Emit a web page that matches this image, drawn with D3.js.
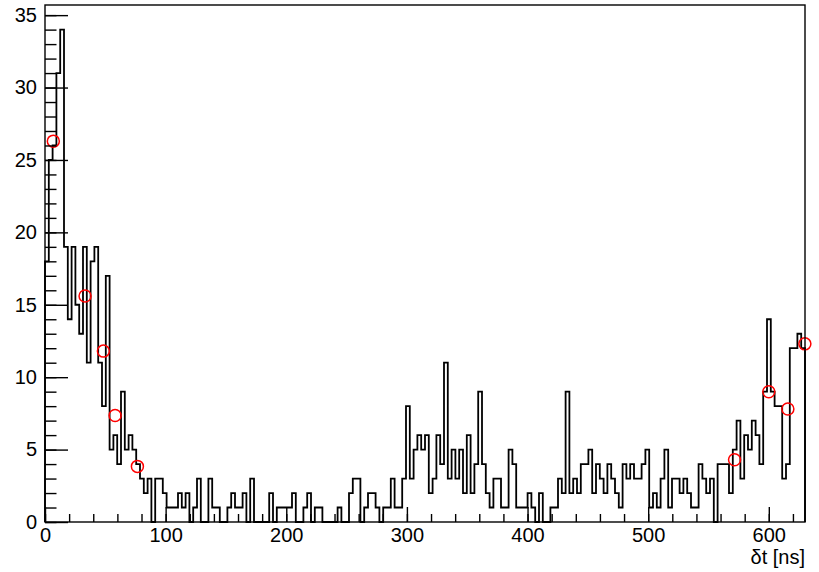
<!DOCTYPE html>
<html>
<head>
<meta charset="utf-8">
<script src="https://cdn.jsdelivr.net/npm/d3@7/dist/d3.min.js"></script>
<style>
body { margin: 0; background: #fff; }
svg text { font-family: "Liberation Sans", Arial, Helvetica, sans-serif; }
</style>
</head>
<body>
<div id="chart"></div>
<script>
// histogram contents, 200 bins from 0 to 630 ns
const counts = [
    18, 25, 26, 31, 34, 19, 14, 19, 15, 13,
    19, 11, 18, 19, 11, 8, 17, 5, 6, 4,
    9, 5, 6, 5, 4, 3, 2, 3, 0, 3,
    3, 2, 1, 1, 1, 2, 1, 2, 0, 1,
    3, 0, 0, 3, 1, 1, 0, 0, 1, 2,
    1, 1, 2, 0, 3, 0, 0, 0, 0, 2,
    0, 1, 1, 1, 1, 2, 0, 0, 1, 2,
    0, 1, 1, 0, 0, 0, 0, 1, 0, 0,
    2, 3, 3, 0, 1, 2, 2, 1, 0, 1,
    1, 3, 1, 1, 3, 8, 3, 5, 6, 5,
    6, 2, 3, 6, 4, 11, 3, 5, 3, 5,
    2, 6, 2, 4, 9, 4, 2, 1, 3, 3,
    1, 1, 5, 4, 1, 1, 1, 2, 1, 0,
    2, 0, 0, 1, 1, 3, 2, 9, 2, 3,
    2, 4, 4, 5, 2, 4, 3, 2, 4, 3,
    2, 1, 4, 3, 4, 3, 3, 4, 5, 1,
    2, 1, 3, 5, 1, 3, 3, 2, 3, 2,
    1, 1, 4, 3, 2, 3, 0, 4, 4, 4,
    2, 5, 7, 3, 6, 5, 7, 6, 4, 9,
    14, 9, 8, 8, 3, 4, 12, 12, 13, 12
];
const binLow = 0;
const binHigh = 630;

// red markers
const markerX = [6.9, 33.2, 48.4, 58.1, 76.6, 571.6, 600.0, 615.8, 629.9];
const markerY = [26.3, 15.6, 11.8, 7.35, 3.84, 4.3, 9.0, 7.8, 12.3];

const xMajor = [0, 100, 200, 300, 400, 500, 600];
const yMajor = [0, 5, 10, 15, 20, 25, 30, 35];
const xTitle = "δt [ns]";

const W = 819, H = 572;
const frame = { left: 45, right: 805, top: 5, bottom: 522 };

const svg = d3.select("#chart").append("svg")
    .attr("width", W)
    .attr("height", H)
    .style("display", "block");

svg.append("rect").attr("width", W).attr("height", H).attr("fill", "#fff");

const x = d3.scaleLinear()
    .domain([binLow, binHigh])
    .range([frame.left, frame.right]);

const y = d3.scaleLinear()
    .domain([0, 1.05 * d3.max(counts)])
    .range([frame.bottom, frame.top]);

// histogram outline
const bw = (binHigh - binLow) / counts.length;
const pts = [[binLow, 0]]
    .concat(counts.map((c, i) => [binLow + i * bw, c]))
    .concat([[binHigh, counts[counts.length - 1]], [binHigh, 0]]);

svg.append("path")
    .datum(pts)
    .attr("fill", "none")
    .attr("stroke", "#000")
    .attr("stroke-width", 1.8)
    .attr("d", d3.line()
        .x(d => x(d[0]))
        .y(d => y(d[1]))
        .curve(d3.curveStepAfter));

// markers
svg.append("g")
    .selectAll("circle")
    .data(markerX.map((v, i) => [v, markerY[i]]))
    .join("circle")
    .attr("cx", d => x(d[0]))
    .attr("cy", d => y(d[1]))
    .attr("r", 6)
    .attr("fill", "none")
    .attr("stroke", "#ff0000")
    .attr("stroke-width", 1.5);

// axes, ticks pointing into the frame like ROOT does
const xMinor = d3.range(binLow, binHigh + 1, 20);
const yMinor = d3.range(0, 36, 1);

svg.append("g")
    .attr("transform", "translate(0," + frame.bottom + ")")
    .call(d3.axisBottom(x).tickValues(xMinor).tickSize(-8).tickFormat(""));

svg.append("g")
    .attr("transform", "translate(0," + frame.bottom + ")")
    .call(d3.axisBottom(x).tickValues(xMajor).tickSize(-15).tickPadding(6).tickFormat(d3.format("d")));

svg.append("g")
    .attr("transform", "translate(" + frame.left + ",0)")
    .call(d3.axisLeft(y).tickValues(yMinor).tickSize(-11.5).tickFormat(""));

svg.append("g")
    .attr("transform", "translate(" + frame.left + ",0)")
    .call(d3.axisLeft(y).tickValues(yMajor).tickSize(-23).tickPadding(8).tickFormat(d3.format("d")));

svg.selectAll(".domain").remove();
svg.selectAll(".tick line").attr("stroke", "#000").attr("stroke-width", 1.4);
svg.selectAll(".tick text")
    .attr("fill", "#000")
    .style("font-size", "20px");

// frame
svg.append("rect")
    .attr("x", frame.left)
    .attr("y", frame.top)
    .attr("width", frame.right - frame.left)
    .attr("height", frame.bottom - frame.top)
    .attr("fill", "none")
    .attr("stroke", "#000")
    .attr("stroke-width", 1.4);

// axis title
svg.append("text")
    .attr("x", frame.right)
    .attr("y", 564)
    .attr("text-anchor", "end")
    .style("font-size", "20px")
    .text(xTitle);
</script>
</body>
</html>
